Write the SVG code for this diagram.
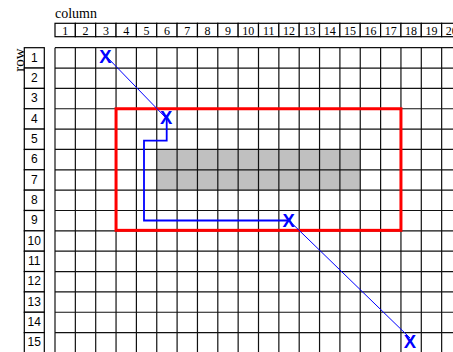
<svg xmlns="http://www.w3.org/2000/svg" width="453" height="352" viewBox="0 0 453 352">
<style>
.hdr{fill:#fff;stroke:#000;stroke-width:1.2}
.hn{font-family:"Liberation Serif",serif;font-size:12px;text-anchor:middle;fill:#000}
.rn{font-family:"Liberation Sans",sans-serif;font-size:12px;text-anchor:middle;fill:#000}
.lbl{font-family:"Liberation Serif",serif;fill:#000}
.grid line{stroke:#111;stroke-width:1.2}
.mark{font-family:"Liberation Sans",sans-serif;font-weight:bold;font-size:18.5px;text-anchor:middle;fill:#0000ff}
.thin{stroke:#0000ff;stroke-width:1;fill:none}
.route{stroke:#0000ff;stroke-width:1.8;fill:none}
</style>
<rect width="453" height="352" fill="#fff"/>
<text class="lbl" x="55" y="18.3" font-size="14">column</text>
<text class="lbl" font-size="15" text-anchor="middle" transform="translate(24,60) rotate(-90)">row</text>
<g id="col-header">
<rect class="hdr" x="55" y="23.3" width="20.35" height="13.4"/><rect class="hdr" x="75.35" y="23.3" width="20.35" height="13.4"/><rect class="hdr" x="95.7" y="23.3" width="20.35" height="13.4"/><rect class="hdr" x="116.05" y="23.3" width="20.35" height="13.4"/><rect class="hdr" x="136.4" y="23.3" width="20.35" height="13.4"/><rect class="hdr" x="156.75" y="23.3" width="20.35" height="13.4"/><rect class="hdr" x="177.1" y="23.3" width="20.35" height="13.4"/><rect class="hdr" x="197.45" y="23.3" width="20.35" height="13.4"/><rect class="hdr" x="217.8" y="23.3" width="20.35" height="13.4"/><rect class="hdr" x="238.15" y="23.3" width="20.35" height="13.4"/><rect class="hdr" x="258.5" y="23.3" width="20.35" height="13.4"/><rect class="hdr" x="278.85" y="23.3" width="20.35" height="13.4"/><rect class="hdr" x="299.2" y="23.3" width="20.35" height="13.4"/><rect class="hdr" x="319.55" y="23.3" width="20.35" height="13.4"/><rect class="hdr" x="339.9" y="23.3" width="20.35" height="13.4"/><rect class="hdr" x="360.25" y="23.3" width="20.35" height="13.4"/><rect class="hdr" x="380.6" y="23.3" width="20.35" height="13.4"/><rect class="hdr" x="400.95" y="23.3" width="20.35" height="13.4"/><rect class="hdr" x="421.3" y="23.3" width="20.35" height="13.4"/><rect class="hdr" x="441.65" y="23.3" width="20.35" height="13.4"/>
<text class="hn" x="65.2" y="34.5">1</text><text class="hn" x="85.5" y="34.5">2</text><text class="hn" x="105.9" y="34.5">3</text><text class="hn" x="126.2" y="34.5">4</text><text class="hn" x="146.6" y="34.5">5</text><text class="hn" x="166.9" y="34.5">6</text><text class="hn" x="187.3" y="34.5">7</text><text class="hn" x="207.6" y="34.5">8</text><text class="hn" x="228" y="34.5">9</text><text class="hn" x="248.3" y="34.5">10</text><text class="hn" x="268.7" y="34.5">11</text><text class="hn" x="289" y="34.5">12</text><text class="hn" x="309.4" y="34.5">13</text><text class="hn" x="329.7" y="34.5">14</text><text class="hn" x="350.1" y="34.5">15</text><text class="hn" x="370.4" y="34.5">16</text><text class="hn" x="390.8" y="34.5">17</text><text class="hn" x="411.1" y="34.5">18</text><text class="hn" x="431.5" y="34.5">19</text><text class="hn" x="451.8" y="34.5">20</text>
</g>
<g id="row-header">
<rect class="hdr" x="24.3" y="47.7" width="20" height="20.35"/><rect class="hdr" x="24.3" y="68.05" width="20" height="20.35"/><rect class="hdr" x="24.3" y="88.4" width="20" height="20.35"/><rect class="hdr" x="24.3" y="108.75" width="20" height="20.35"/><rect class="hdr" x="24.3" y="129.1" width="20" height="20.35"/><rect class="hdr" x="24.3" y="149.45" width="20" height="20.35"/><rect class="hdr" x="24.3" y="169.8" width="20" height="20.35"/><rect class="hdr" x="24.3" y="190.15" width="20" height="20.35"/><rect class="hdr" x="24.3" y="210.5" width="20" height="20.35"/><rect class="hdr" x="24.3" y="230.85" width="20" height="20.35"/><rect class="hdr" x="24.3" y="251.2" width="20" height="20.35"/><rect class="hdr" x="24.3" y="271.55" width="20" height="20.35"/><rect class="hdr" x="24.3" y="291.9" width="20" height="20.35"/><rect class="hdr" x="24.3" y="312.25" width="20" height="20.35"/><rect class="hdr" x="24.3" y="332.6" width="20" height="20.35"/>
<text class="rn" x="34.3" y="61.6">1</text><text class="rn" x="34.3" y="81.9">2</text><text class="rn" x="34.3" y="102.3">3</text><text class="rn" x="34.3" y="122.6">4</text><text class="rn" x="34.3" y="143">5</text><text class="rn" x="34.3" y="163.3">6</text><text class="rn" x="34.3" y="183.7">7</text><text class="rn" x="34.3" y="204">8</text><text class="rn" x="34.3" y="224.4">9</text><text class="rn" x="34.3" y="244.6">10</text><text class="rn" x="34.3" y="265">11</text><text class="rn" x="34.3" y="285.3">12</text><text class="rn" x="34.3" y="305.7">13</text><text class="rn" x="34.3" y="326">14</text><text class="rn" x="34.3" y="346.2">15</text>
</g>
<rect id="blocked" x="156.75" y="149.45" width="203.5" height="40.7" fill="#c0c0c0"/>
<g class="grid" id="grid">
<line x1="55" y1="47.7" x2="55" y2="353"/><line x1="75.35" y1="47.7" x2="75.35" y2="353"/><line x1="95.7" y1="47.7" x2="95.7" y2="353"/><line x1="116.05" y1="47.7" x2="116.05" y2="353"/><line x1="136.4" y1="47.7" x2="136.4" y2="353"/><line x1="156.75" y1="47.7" x2="156.75" y2="353"/><line x1="177.1" y1="47.7" x2="177.1" y2="353"/><line x1="197.45" y1="47.7" x2="197.45" y2="353"/><line x1="217.8" y1="47.7" x2="217.8" y2="353"/><line x1="238.15" y1="47.7" x2="238.15" y2="353"/><line x1="258.5" y1="47.7" x2="258.5" y2="353"/><line x1="278.85" y1="47.7" x2="278.85" y2="353"/><line x1="299.2" y1="47.7" x2="299.2" y2="353"/><line x1="319.55" y1="47.7" x2="319.55" y2="353"/><line x1="339.9" y1="47.7" x2="339.9" y2="353"/><line x1="360.25" y1="47.7" x2="360.25" y2="353"/><line x1="380.6" y1="47.7" x2="380.6" y2="353"/><line x1="400.95" y1="47.7" x2="400.95" y2="353"/><line x1="421.3" y1="47.7" x2="421.3" y2="353"/><line x1="441.65" y1="47.7" x2="441.65" y2="353"/>
<line x1="55" y1="47.7" x2="453" y2="47.7"/><line x1="55" y1="68.05" x2="453" y2="68.05"/><line x1="55" y1="88.4" x2="453" y2="88.4"/><line x1="55" y1="108.75" x2="453" y2="108.75"/><line x1="55" y1="129.1" x2="453" y2="129.1"/><line x1="55" y1="149.45" x2="453" y2="149.45"/><line x1="55" y1="169.8" x2="453" y2="169.8"/><line x1="55" y1="190.15" x2="453" y2="190.15"/><line x1="55" y1="210.5" x2="453" y2="210.5"/><line x1="55" y1="230.85" x2="453" y2="230.85"/><line x1="55" y1="251.2" x2="453" y2="251.2"/><line x1="55" y1="271.55" x2="453" y2="271.55"/><line x1="55" y1="291.9" x2="453" y2="291.9"/><line x1="55" y1="312.25" x2="453" y2="312.25"/><line x1="55" y1="332.6" x2="453" y2="332.6"/>
</g>
<rect id="region" x="116.05" y="108.75" width="284.9" height="121.6" fill="none" stroke="#ff0000" stroke-width="3"/>
<g id="connectors">
<line class="thin" x1="105" y1="55" x2="166" y2="118"/>
<path class="route" d="M166.7,119 V140.6 H144 V220.5 H288"/>
<line class="thin" x1="289" y1="220.5" x2="410" y2="338"/>
</g>
<g id="x1"><text class="mark" x="105.5" y="63.3">X</text></g>
<g id="x2"><text class="mark" x="166.2" y="124">X</text></g>
<g id="x3"><text class="mark" x="288.7" y="226.7">X</text></g>
<g id="x4"><text class="mark" x="410" y="348.3">X</text></g>
</svg>
